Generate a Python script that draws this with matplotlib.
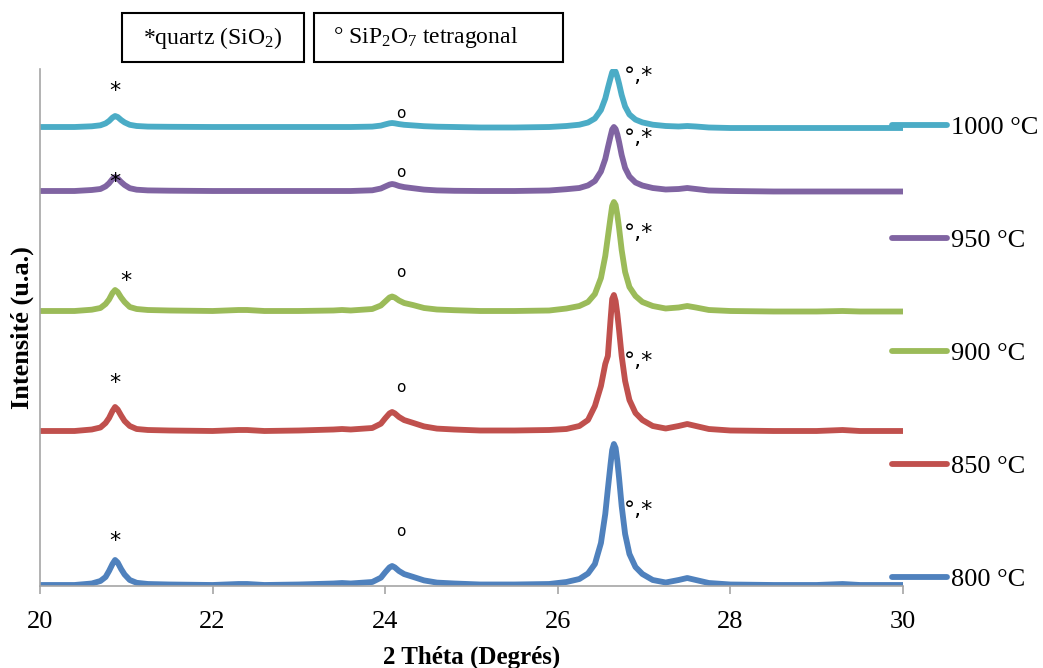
import matplotlib
matplotlib.use('Agg')
import matplotlib.pyplot as plt
from matplotlib.patches import Rectangle

plt.rcParams['font.family'] = ['Liberation Serif', 'DejaVu Serif']
plt.rcParams['mathtext.fontset'] = 'custom'
plt.rcParams['mathtext.rm'] = 'Liberation Serif'
plt.rcParams['mathtext.it'] = 'Liberation Serif:italic'
plt.rcParams['mathtext.bf'] = 'Liberation Serif:bold'

# 2 theta grid (degrees), shared by all patterns
theta = [20.0, 20.4, 20.6, 20.7, 20.76, 20.8, 20.84, 20.87, 20.9, 20.94, 20.98, 21.04, 21.12, 21.25, 21.5,
         22.0, 22.3, 22.4, 22.6, 23.0, 23.4, 23.5, 23.6,
         23.85, 23.95, 24.0, 24.05, 24.08, 24.11, 24.16, 24.22, 24.32, 24.45, 24.6, 24.8,
         25.1, 25.5, 25.9,
         26.1, 26.25, 26.35, 26.43, 26.5, 26.55, 26.58, 26.61, 26.63, 26.65, 26.67, 26.69, 26.71,
         26.74, 26.78, 26.83, 26.9, 26.98, 27.1, 27.25,
         27.4, 27.5, 27.6, 27.75, 28.0, 28.5, 29.0, 29.3, 29.5, 30.0]

# intensities (u.a., stacked)
i800 = [1, 1, 2.5, 5, 9, 15, 22, 26, 23.5, 17, 11.5, 6, 3.2, 2, 1.5,
        1, 2, 2, 1, 1.5, 2.5, 3, 2.5,
        4, 8.3, 13.7, 18.6, 20, 18.7, 15, 11.9, 9.2, 5.6, 3.4, 2.5,
        1.5, 1.5, 2,
        4, 7, 12.5, 22, 43, 72, 97, 121, 136, 142, 138, 125, 108, 80, 52, 32, 19, 12, 6, 3.5,
        6, 8, 6, 3, 1.5, 1, 1, 2, 1, 1]
i850 = [155, 155, 156.5, 158.5, 163, 168, 175, 179, 176.5, 170.5, 165, 160, 157, 156, 155.5,
        155, 156, 156, 155, 155.5, 156.5, 157, 156.5,
        158, 162.3, 167.7, 172.6, 174, 172.7, 169, 165.9, 163.2, 159.6, 157.4, 156.5,
        155.5, 155.5, 156,
        157, 160, 166, 180, 200, 222, 230, 265, 287, 291, 285, 272, 256, 230, 205, 186, 173, 166, 160, 157.5,
        160, 162, 160, 157, 155.5, 155, 155, 156, 155, 155]
i900 = [275, 275, 276.3, 278, 282, 286.5, 293, 296, 294, 288.5, 284, 279, 277, 276, 275.5,
        275, 276, 276, 275, 275, 275.5, 276, 275.5,
        277, 280.5, 284.5, 288.5, 289.5, 288.5, 285.5, 283, 281, 278, 276.5, 275.8,
        275, 275, 275.5,
        277.5, 280, 284, 292, 308, 330, 349, 368, 380, 384, 381, 371, 358, 336, 314, 299, 290, 284, 280, 277.5,
        278.5, 280, 278.5, 276, 275, 274.5, 274.5, 275, 274.5, 274.5]
i950 = [395, 395, 396, 397, 399.6, 402.7, 407, 409, 407.6, 404, 401, 397.8, 396.3, 395.6, 395.3,
        395, 395, 395, 395, 395, 395, 395, 395,
        395.7, 397.5, 399.5, 401.4, 402, 401.5, 400, 398.9, 397.8, 396.4, 395.6, 395.2,
        395, 395, 395.5,
        396.8, 398, 400.6, 405, 414.5, 427, 438.5, 449.5, 456.5, 459, 457, 451.5, 444, 431, 418, 409.5,
        403.5, 400.5, 398, 396.5,
        397, 398, 397, 395.5, 395, 394.5, 394.5, 394.5, 394.5, 394.5]
i1000 = [459, 459, 459.7, 460.7, 462.6, 465, 468.4, 470, 469, 466, 463.6, 461.2, 460, 459.4, 459.2,
         459, 459, 459, 459, 459, 459, 459, 459,
         459.4, 460.4, 461.6, 462.7, 463, 462.7, 461.9, 461.2, 460.6, 459.8, 459.3, 459,
         458.5, 458.5, 459,
         460, 461.3, 463.5, 467.5, 476, 487.5, 497.8, 507.5, 513.7, 516, 514.3, 509, 502.3, 491, 479.5,
         471.5, 466.4, 463.6, 461.3, 460,
         459.5, 460, 459.5, 458.5, 458, 458, 458, 458, 458, 458]

labels = ['800 °C', '850 °C', '900 °C', '950 °C', '1000 °C']
series = [i800, i850, i900, i950, i1000]
colors = ['#4F81BD', '#C0504D', '#9BBB59', '#8064A2', '#4BACC6']

# peak markers: (x, y) for quartz '*', SiP2O7 'o' and main peak '°,*'
quartz_pos = [(20.87, 39), (20.87, 197), (21.0, 299), (20.87, 398), (20.87, 489)]
sip_pos = [(24.18, 50), (24.18, 194), (24.18, 309), (24.18, 409), (24.18, 468)]
main_pos = [(26.76, 70), (26.76, 219), (26.76, 347), (26.76, 442), (26.76, 504)]

fig = plt.figure(figsize=(10.43, 6.68), dpi=100)
ax = fig.add_axes([40 / 1043, 82 / 668, 863 / 1043, 517 / 668])

handles = []
for y, lab, c in zip(series, labels, colors):
    ln, = ax.plot(theta, y, color=c, lw=4.2, solid_joinstyle='round',
                  solid_capstyle='round', label=lab)
    handles.append(ln)

for (qx, qy), (sx, sy), (mx, my) in zip(quartz_pos, sip_pos, main_pos):
    ax.text(qx, qy, '*', family='DejaVu Sans', fontsize=16, ha='center', va='baseline')
    ax.text(sx, sy, 'o', family='DejaVu Sans', fontsize=11, ha='center', va='baseline')
    ax.text(mx, my, '°,*', family='DejaVu Sans', fontsize=16, ha='left', va='baseline')

ax.set_xlim(20, 30)
ax.set_ylim(0, 517)
ax.set_xticks([20, 22, 24, 26, 28, 30])
ax.set_yticks([])
for s in ['top', 'right']:
    ax.spines[s].set_visible(False)
for s in ['left', 'bottom']:
    ax.spines[s].set_color('#A6A6A6')
    ax.spines[s].set_linewidth(1.2)
ax.tick_params(axis='x', direction='out', length=6, width=1.2, color='#A6A6A6',
               labelsize=19, pad=12)
ax.set_xlabel('2 Théta (Degrés)', fontsize=18, fontweight='bold', labelpad=9)
ax.set_ylabel('Intensité (u.a.)', fontsize=19, fontweight='bold', labelpad=4)

leg = ax.legend(handles[::-1], labels[::-1], loc='upper left',
                bbox_to_anchor=(852 / 863, (586 - 116) / 517), frameon=False,
                fontsize=19, handlelength=2.1, handletextpad=0.15,
                labelspacing=3.39, borderpad=0, borderaxespad=0)
for ln in leg.get_lines():
    ln.set_linewidth(4.2)

# legend boxes at the top
fig.patches.append(Rectangle((122 / 1043, 1 - 62 / 668), 182 / 1043, 49 / 668,
                             transform=fig.transFigure, fill=False, lw=1.5, ec='black'))
fig.patches.append(Rectangle((314 / 1043, 1 - 62 / 668), 249 / 1043, 49 / 668,
                             transform=fig.transFigure, fill=False, lw=1.5, ec='black'))
fig.text(213 / 1043, 1 - 38 / 668, '*quartz (SiO$_2$)', fontsize=17, ha='center', va='center')
fig.text(333 / 1043, 1 - 38 / 668, '° SiP$_2$O$_7$ tetragonal', fontsize=17,
         ha='left', va='center')

fig.savefig('out.png', dpi=100)
